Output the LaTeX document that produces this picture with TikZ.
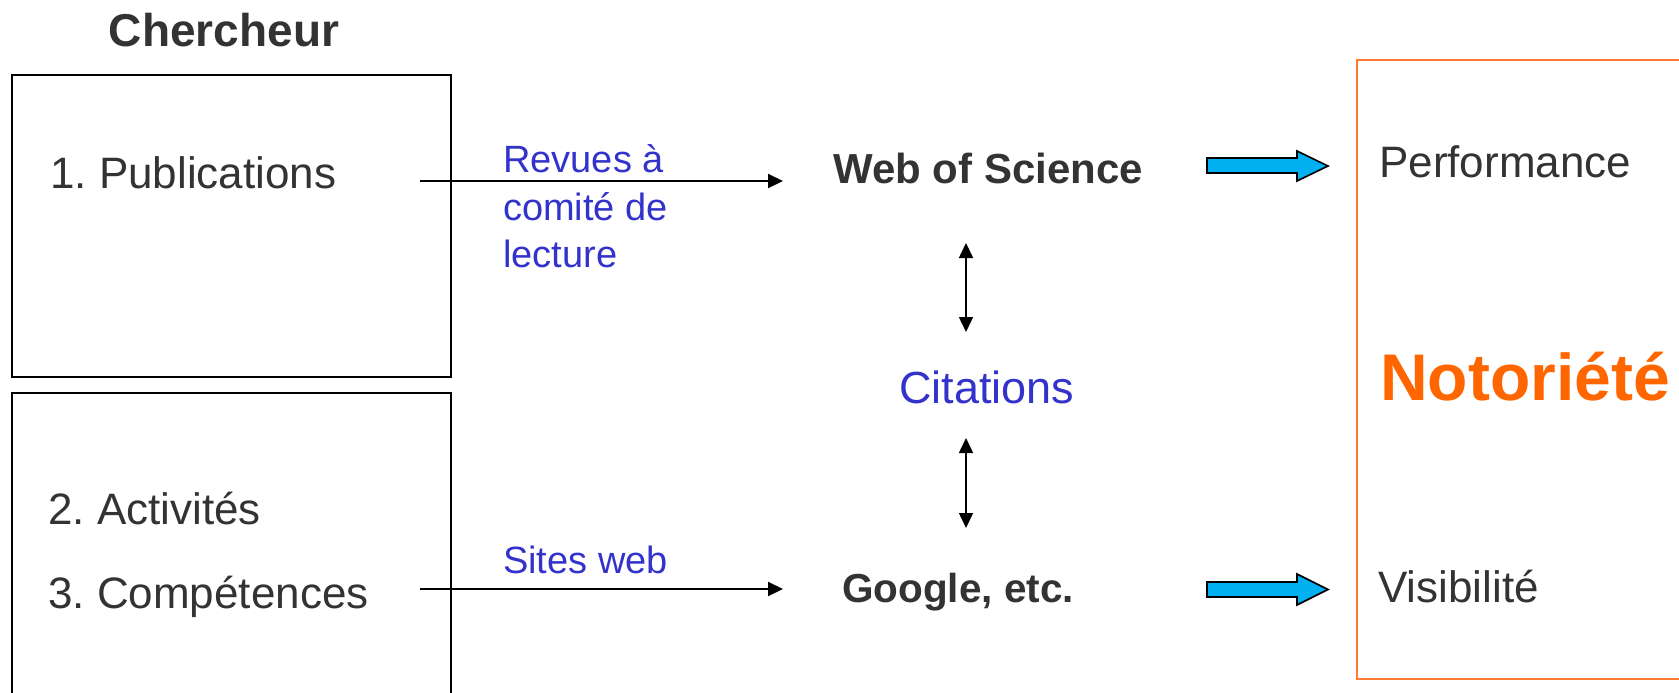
\documentclass[tikz,border=0pt]{standalone}
\usepackage{fontspec}
\setmainfont{Liberation Sans}
\usetikzlibrary{arrows.meta}
\definecolor{txtgray}{HTML}{333333}
\definecolor{lblue}{HTML}{3333CC}
\definecolor{orng}{HTML}{FF6600}
\definecolor{orline}{HTML}{FF7A30}
\definecolor{cyanfill}{HTML}{00B0F0}
\frenchspacing
\tikzset{
  txt/.style={anchor=base west, inner sep=0pt, text=txtgray, font=\fontsize{44}{52}\selectfont},
  bluetxt/.style={anchor=base west, inner sep=0pt, text=lblue, font=\fontsize{38}{46}\selectfont},
  boldtxt/.style={anchor=base west, inner sep=0pt, text=txtgray, font=\bfseries\fontsize{42}{50}\selectfont},
  frame/.style={draw=black, line width=2pt},
  conn/.style={draw=black, line width=2pt, -{Triangle[length=15pt,width=14pt]}},
  dconn/.style={draw=black, line width=1.6pt, {Triangle[length=15pt,width=14pt]}-{Triangle[length=15pt,width=14pt]}},
  bigarrow/.style={draw=black, line width=1.6pt, fill=cyanfill, line join=miter}
}
\begin{document}
\begin{tikzpicture}[x=1pt,y=-1pt]
\useasboundingbox (0,0) rectangle (1679,693);
\clip (0,0) rectangle (1679,693);
% title
\node[anchor=base, inner sep=0pt, text=txtgray, font=\bfseries\fontsize{46}{54}\selectfont] (cherch) at (224,47) {Chercheur};
% boxes
\draw[frame] (12,75) rectangle (451,377);
\draw[frame] (12,393) rectangle (451,720);
\node[txt] (pub) at (50,188) {1. Publications};
\node[txt] (act) at (48,524) {2. Activités};
\node[txt] (comp) at (48,608) {3. Compétences};
% middle
\node[boldtxt] (wos) at (833,183) {Web of Science};
\node[boldtxt, font=\bfseries\fontsize{40.5}{50}\selectfont] (goog) at (842,602) {Google, etc.};
\node[bluetxt, font=\fontsize{45}{50}\selectfont] (cit) at (899,403) {Citations};
\node[bluetxt] (rev1) at (503,172) {Revues à};
\node[bluetxt] (rev2) at (503,220) {comité de};
\node[bluetxt] (rev3) at (503,267) {lecture};
\node[bluetxt] (sites) at (503,573) {Sites web};
% connectors
\coordinate (s1) at (420,181);
\coordinate (s2) at (420,589);
\draw[conn, shorten >=50pt] (s1) -- (s1 -| wos.west);
\draw[conn, shorten >=59pt] (s2) -- (s2 -| goog.west);
\coordinate (v1a) at (966,243);
\coordinate (v1b) at (966,332);
\coordinate (v2a) at (966,438);
\coordinate (v2b) at (966,528);
\draw[dconn] (v1a) -- (v1b);
\draw[dconn] (v2a) -- (v2b);
% big cyan arrows
\draw[bigarrow] (1207,158) -- (1297,158) -- (1297,151) -- (1328,166) -- (1297,181) -- (1297,173) -- (1207,173) -- cycle;
\draw[bigarrow] (1207,582) -- (1297,582) -- (1297,574) -- (1328,589.5) -- (1297,605) -- (1297,597) -- (1207,597) -- cycle;
% right box
\draw[draw=orline, line width=2pt] (1357,60) rectangle (1700,679);
\node[txt] (perf) at (1379,177) {Performance};
\node[anchor=base west, inner sep=0pt, text=orng, font=\bfseries\fontsize{66}{76}\selectfont] (not) at (1380,400) {Notoriété};
\node[txt] (vis) at (1378,602) {Visibilité};
\end{tikzpicture}
\end{document}
